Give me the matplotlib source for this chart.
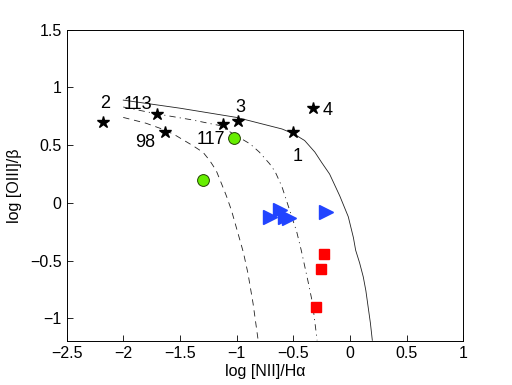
import matplotlib
matplotlib.use("Agg")
import matplotlib.pyplot as plt

plt.rcParams['font.family'] = ['Liberation Sans', 'DejaVu Sans']
plt.rcParams['lines.scale_dashes'] = False

# demarcation curves
solid_x = [-2.0, -1.5, -1.0, -0.8, -0.6, -0.5, -0.4, -0.31, -0.25, -0.18, -0.09, -0.015, 0.03, 0.05, 0.085, 0.117, 0.14, 0.16, 0.18, 0.197]
solid_y = [0.89, 0.82, 0.74, 0.69, 0.64, 0.60, 0.54, 0.44, 0.35, 0.25, 0.06, -0.12, -0.30, -0.41, -0.52, -0.64, -0.76, -0.90, -1.04, -1.19]

dashdot_x = [-2.0, -1.7, -1.4, -1.15, -1.0, -0.88, -0.8, -0.71, -0.66, -0.6, -0.53, -0.47, -0.43, -0.37, -0.33, -0.29]
dashdot_y = [0.83, 0.77, 0.72, 0.67, 0.58, 0.51, 0.44, 0.34, 0.27, 0.14, -0.07, -0.25, -0.41, -0.68, -0.87, -1.19]

dashed_x = [-2.0, -1.8, -1.63, -1.53, -1.385, -1.295, -1.236, -1.18, -1.12, -1.09, -1.045, -0.986, -0.94, -0.9, -0.855, -0.81]
dashed_y = [0.74, 0.69, 0.63, 0.58, 0.495, 0.437, 0.365, 0.28, 0.134, 0.06, -0.066, -0.27, -0.43, -0.61, -0.87, -1.19]

# stars with labels
star_x = [-2.18, -1.70, -1.63, -1.12, -0.99, -0.33, -0.50]
star_y = [0.70, 0.77, 0.61, 0.68, 0.71, 0.82, 0.615]
star_labels = ['2', '113', '98', '117', '3', '4', '1']
label_x = [-2.16, -1.87, -1.81, -1.23, -0.963, -0.20, -0.458]
label_y = [0.86, 0.85, 0.52, 0.546, 0.83, 0.796, 0.40]

circle_x = [-1.02, -1.30]
circle_y = [0.566, 0.20]

tri_x = [-0.707, -0.62, -0.575, -0.54, -0.21]
tri_y = [-0.12, -0.06, -0.12, -0.13, -0.075]

sq_x = [-0.225, -0.26, -0.30]
sq_y = [-0.44, -0.57, -0.90]

fig = plt.figure(figsize=(5.12, 3.85), dpi=100)
ax = fig.add_axes([0.13, 0.113, 0.775, 0.81])

ax.plot(solid_x, solid_y, '-', color='#222222', lw=0.6)
ax.plot(dashdot_x, dashdot_y, color='#222222', lw=0.6, dashes=(4.5, 3, 0.8, 3))
ax.plot(dashed_x, dashed_y, color='#222222', lw=0.6, dashes=(4.5, 3.5))

ax.plot(star_x, star_y, linestyle='none', marker='*', color='black', markersize=9)
for lx, ly, t in zip(label_x, label_y, star_labels):
    ax.text(lx, ly, t, fontsize=13, ha='center', va='center')

ax.plot(circle_x, circle_y, linestyle='none', marker='o', markerfacecolor='#66ee00',
        markeredgecolor='#224400', markeredgewidth=0.7, markersize=8.5)
ax.plot(tri_x, tri_y, linestyle='none', marker='>', color='#2244ff', markersize=10)
ax.plot(sq_x, sq_y, linestyle='none', marker='s', color='#ff0000', markersize=6.5)

ax.set_xlim(-2.5, 1)
ax.set_ylim(-1.2, 1.5)
ax.set_xticks([-2.5, -2, -1.5, -1, -0.5, 0, 0.5, 1])
ax.set_xticklabels(['\u22122.5', '\u22122', '\u22121.5', '\u22121', '\u22120.5', '0', '0.5', '1'])
ax.set_yticks([-1, -0.5, 0, 0.5, 1, 1.5])
ax.set_yticklabels(['\u22121', '\u22120.5', '0', '0.5', '1', '1.5'])
ax.tick_params(direction='in', length=4, width=0.6, labelsize=11.5, top=False, right=False)
for s in ax.spines.values():
    s.set_linewidth(0.7)

ax.set_xlabel('log [NII]/H\u03b1', fontsize=11.5, labelpad=2)
ax.set_ylabel('log [OIII]/\u03b2', fontsize=11.5, labelpad=6)

fig.savefig('out.png', dpi=100)
